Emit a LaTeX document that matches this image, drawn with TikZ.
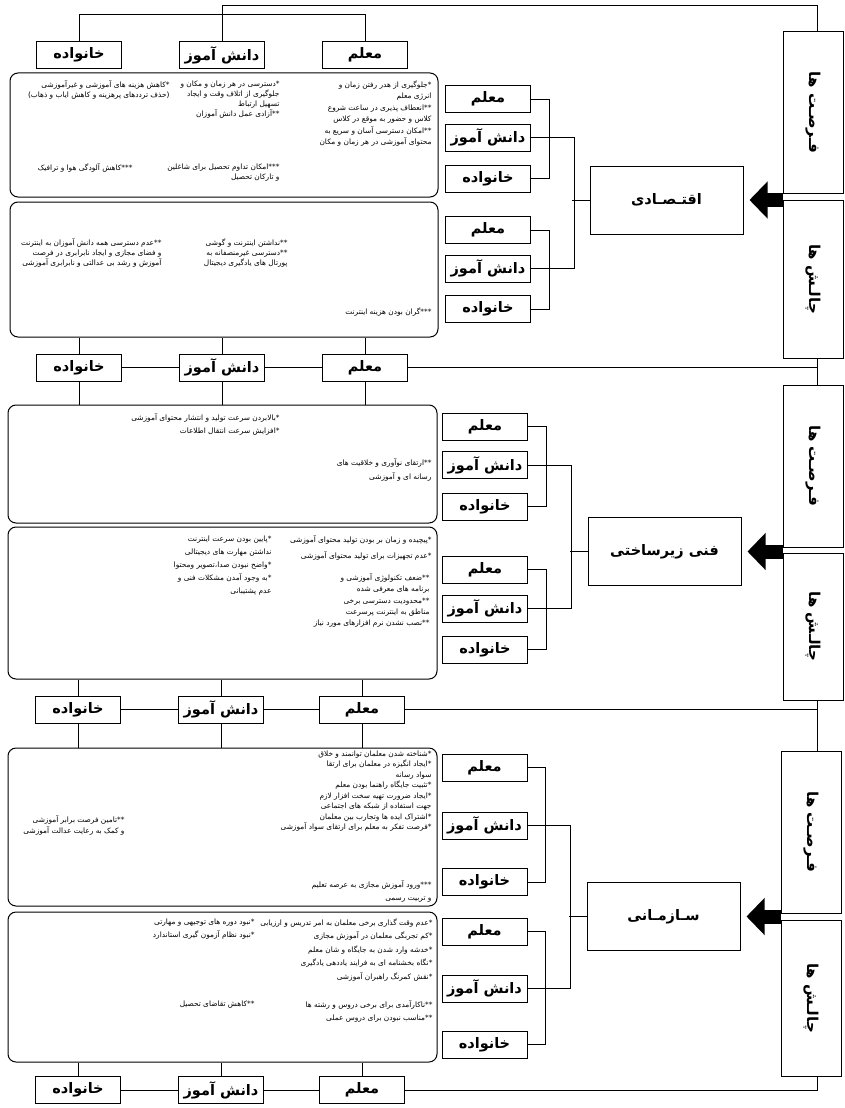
\documentclass[tikz,border=0pt]{standalone}
\usepackage{fontspec}
\usepackage{graphicx}
\setmainfont{DejaVu Sans}
\newfontfamily\fa[Script=Arabic]{DejaVu Sans}
\TeXXeTstate=1
\usetikzlibrary{arrows.meta}
\newcommand{\fatxt}[1]{{\fa\beginR #1\endR}}
\tikzset{
	cell/.style={draw, fill=white, minimum width=85pt, minimum height=27pt, inner sep=0pt, font=\bfseries\fontsize{14.5}{14.5}\selectfont},
	topic/.style={draw, fill=white, minimum width=153pt, minimum height=68pt, inner sep=0pt, font=\bfseries\fontsize{14.5}{14.5}\selectfont},
	side/.style={draw, minimum width=60pt, inner sep=0pt, font=\bfseries\fontsize{15}{15}\selectfont},
	panel/.style={draw, rounded corners=8pt, inner sep=0pt},
	note/.style={align=right, inner sep=0pt, anchor=north east, font=\fontsize{7.4}{#1}\selectfont},
	note/.default=11.5
}
\begin{document}
\begin{tikzpicture}[x=1pt, y=-1pt, line width=1pt, >={Triangle[length=18pt, width=36pt]}]
		\useasboundingbox (0,0) rectangle (844,1108);

		\node[cell] (hF1) at (79,55) {\fatxt{خانواده}};
		\node[cell] (hS1) at (222,55) {\fatxt{دانش آموز}};
		\node[cell] (hT1) at (365,55) {\fatxt{معلم}};
		\node[cell] (hF2) at (79,367.5) {\fatxt{خانواده}};
		\node[cell] (hS2) at (222,367.5) {\fatxt{دانش آموز}};
		\node[cell] (hT2) at (365,367.5) {\fatxt{معلم}};
		\node[cell] (hF3) at (78,709.5) {\fatxt{خانواده}};
		\node[cell] (hS3) at (221,709.5) {\fatxt{دانش آموز}};
		\node[cell] (hT3) at (362,709.5) {\fatxt{معلم}};
		\node[cell] (hF4) at (78,1090) {\fatxt{خانواده}};
		\node[cell] (hS4) at (221,1090) {\fatxt{دانش آموز}};
		\node[cell] (hT4) at (362,1090) {\fatxt{معلم}};

		\node[panel, minimum width=428pt, minimum height=124pt] (pan1) at (224,135) {};
		\node[panel, minimum width=428pt, minimum height=135pt] (pan2) at (224,269.5) {};
		\node[panel, minimum width=429pt, minimum height=118pt] (pan3) at (222.5,464) {};
		\node[panel, minimum width=429pt, minimum height=152pt] (pan4) at (222.5,603) {};
		\node[panel, minimum width=429pt, minimum height=158pt] (pan5) at (222.5,827) {};
		\node[panel, minimum width=429pt, minimum height=150pt] (pan6) at (222.5,987) {};

		\node[note] (n1a) at (432,80) {\fatxt{*جلوگیری از هدر رفتن زمان و}\\\fatxt{انرژی معلم}\\\fatxt{**انعطاف پذیری در ساعت شروع}\\\fatxt{کلاس و حضور به موقع در کلاس}\\\fatxt{**امکان دسترسی آسان و سریع به}\\\fatxt{محتوای آموزشی در هر زمان و مکان}};
		\node[note=10] (n1b) at (280,80) {\fatxt{*دسترسی در هر زمان و مکان و}\\\fatxt{جلوگیری از اتلاف وقت و ایجاد}\\\fatxt{تسهیل ارتباط}\\\fatxt{**آزادی عمل دانش آموزان}};
		\node[note=10] (n1c) at (280,163) {\fatxt{***امکان تداوم تحصیل برای شاغلین}\\\fatxt{و تارکان تحصیل}};
		\node[note=10] (n1d) at (170,80) {\fatxt{*کاهش هزینه های آموزشی و غیرآموزشی}\\\fatxt{(حذف ترددهای پرهزینه و کاهش ایاب و ذهاب)}};
		\node[note] (n1e) at (133,163) {\fatxt{***کاهش آلودگی هوا و ترافیک}};

		\node[note=10] (n2a) at (288,238) {\fatxt{**نداشتن اینترنت و گوشی}\\\fatxt{**دسترسی غیرمنصفانه به}\\\fatxt{پورتال های یادگیری دیجیتال}};
		\node[note=10] (n2b) at (162,238) {\fatxt{**عدم دسترسی همه دانش آموزان به اینترنت}\\\fatxt{و فضای مجازی و ایجاد نابرابری در فرصت}\\\fatxt{آموزش و رشد بی عدالتی و نابرابری آموزشی}};
		\node[note] (n2c) at (432,307) {\fatxt{***گران بودن هزینه اینترنت}};

		\node[note=13.5] (n3a) at (280,413) {\fatxt{*بالابردن سرعت تولید و انتشار محتوای آموزشی}\\\fatxt{*افزایش سرعت انتقال اطلاعات}};
		\node[note=14] (n3b) at (432,458) {\fatxt{**ارتقای نوآوری و خلاقیت های}\\\fatxt{رسانه ای و آموزشی}};

		\node[note=16.5] (n4a) at (432,535) {\fatxt{*پیچیده و زمان بر بودن تولید محتوای آموزشی}\\\fatxt{*عدم تجهیزات برای تولید محتوای آموزشی}};
		\node[note=11.3] (n4b) at (430,573) {\fatxt{**ضعف تکنولوژی آموزشی و}\\\fatxt{برنامه های معرفی شده}\\\fatxt{**محدودیت دسترسی برخی}\\\fatxt{مناطق به اینترنت پرسرعت}\\\fatxt{**نصب نشدن نرم افزارهای مورد نیاز}};
		\node[note=13.2] (n4c) at (272,535) {\fatxt{*پایین بودن سرعت اینترنت}\\\fatxt{نداشتن مهارت های دیجیتالی}\\\fatxt{*واضح نبودن صدا،تصویر ومحتوا}\\\fatxt{*به وجود آمدن مشکلات فنی و}\\\fatxt{عدم پشتیبانی}};

		\node[note=10.5] (n5a) at (432,750) {\fatxt{*شناخته شدن معلمان توانمند و خلاق}\\\fatxt{*ایجاد انگیزه در معلمان برای ارتقا}\\\fatxt{سواد رسانه}\\\fatxt{*تثبیت جایگاه راهنما بودن معلم}\\\fatxt{*ایجاد ضرورت تهیه سخت افزار لازم}\\\fatxt{جهت استفاده از شبکه های اجتماعی}\\\fatxt{*اشتراک ایده ها وتجارب بین معلمان}\\\fatxt{*فرصت تفکر به معلم برای ارتقای سواد آموزشی}};
		\node[note=13] (n5b) at (432,880) {\fatxt{***ورود آموزش مجازی به عرصه تعلیم}\\\fatxt{و تربیت رسمی}};
		\node[note=11] (n5c) at (125,815) {\fatxt{**تامین فرصت برابر آموزشی}\\\fatxt{و کمک به رعایت عدالت آموزشی}};

		\node[note=13.5] (n6a) at (433,918) {\fatxt{*عدم وقت گذاری برخی معلمان به امر تدریس و ارزیابی}\\\fatxt{*کم تجربگی معلمان در آموزش مجازی}\\\fatxt{*خدشه وارد شدن به جایگاه و شان معلم}\\\fatxt{*نگاه بخشنامه ای به فرایند یاددهی یادگیری}\\\fatxt{*نقش کمرنگ راهبران آموزشی}};
		\node[note=13] (n6b) at (433,1000) {\fatxt{**ناکارآمدی برای برخی دروس و رشته ها}\\\fatxt{**مناسب نبودن برای دروس عملی}};
		\node[note=13.5] (n6c) at (255,918) {\fatxt{*نبود دوره های توجیهی و مهارتی}\\\fatxt{*نبود نظام آزمون گیری استاندارد}};
		\node[note] (n6d) at (255,1000) {\fatxt{**کاهش تقاضای تحصیل}};

		\node[cell] (oT1) at (488,99) {\fatxt{معلم}};
		\node[cell] (oS1) at (488,137.5) {\fatxt{دانش آموز}};
		\node[cell] (oF1) at (488,178.5) {\fatxt{خانواده}};
		\node[cell] (cT1) at (488,230) {\fatxt{معلم}};
		\node[cell] (cS1) at (488,268.5) {\fatxt{دانش آموز}};
		\node[cell] (cF1) at (488,309) {\fatxt{خانواده}};
		\node[cell] (oT2) at (485,426.5) {\fatxt{معلم}};
		\node[cell] (oS2) at (485,465) {\fatxt{دانش آموز}};
		\node[cell] (oF2) at (485,506.5) {\fatxt{خانواده}};
		\node[cell] (cT2) at (485,569.5) {\fatxt{معلم}};
		\node[cell] (cS2) at (485,608.5) {\fatxt{دانش آموز}};
		\node[cell] (cF2) at (485,649.5) {\fatxt{خانواده}};
		\node[cell] (oT3) at (484.5,767.5) {\fatxt{معلم}};
		\node[cell] (oS3) at (484.5,825.5) {\fatxt{دانش آموز}};
		\node[cell] (oF3) at (484.5,882) {\fatxt{خانواده}};
		\node[cell] (cT3) at (484.5,931.5) {\fatxt{معلم}};
		\node[cell] (cS3) at (484.5,988.5) {\fatxt{دانش آموز}};
		\node[cell] (cF3) at (484.5,1044.5) {\fatxt{خانواده}};

		\node[topic] (top1) at (666.5,200) {\fatxt{اقتـصـادی}};
		\node[topic] (top2) at (664.5,551.5) {\fatxt{فنی زیرساختی}};
		\node[topic] (top3) at (663.5,916.5) {\fatxt{سـازمـانی}};

		\node[side, minimum height=161pt] (opp1) at (813,112.5) {\rotatebox{-90}{\fatxt{فـرصـت ها}}};
		\node[side, minimum height=158pt] (chal1) at (813,279) {\rotatebox{-90}{\fatxt{چالـش ها}}};
		\node[side, minimum height=162pt] (opp2) at (813,466) {\rotatebox{-90}{\fatxt{فـرصـت ها}}};
		\node[side, minimum height=147pt] (chal2) at (813,626.5) {\rotatebox{-90}{\fatxt{چالـش ها}}};
		\node[side, minimum height=162pt] (opp3) at (811,832) {\rotatebox{-90}{\fatxt{فـرصـت ها}}};
		\node[side, minimum height=156pt] (chal3) at (811,998) {\rotatebox{-90}{\fatxt{چالـش ها}}};
		\coordinate (tr) at (817,6);

		\draw (hS1.north) |- (tr) -- (tr |- opp1.north);
		\draw (hF1.north) -- ++(0,-26) -| (hT1.north);
		\draw (chal1.south -| tr) -- (opp2.north -| tr);
		\draw (chal2.south -| tr) -- (opp3.north -| tr);
		\draw (chal3.south -| tr) |- (hT4.east);

		\draw (hF2) -- (hS2);
		\draw (hS2) -- (hT2);
		\draw (hT2.east) -- (hT2.east -| tr);
		\draw (hF2.north) -- (hF2.north |- pan2.south);
		\draw (hS2.north) -- (hS2.north |- pan2.south);
		\draw (hT2.north) -- (hT2.north |- pan2.south);
		\draw (hF2.south) -- (hF2.south |- pan3.north);
		\draw (hS2.south) -- (hS2.south |- pan3.north);
		\draw (hT2.south) -- (hT2.south |- pan3.north);

		\draw (hF3) -- (hS3);
		\draw (hS3) -- (hT3);
		\draw (hT3.east) -- (hT3.east -| tr);
		\draw (hF3.north) -- (hF3.north |- pan4.south);
		\draw (hS3.north) -- (hS3.north |- pan4.south);
		\draw (hT3.north) -- (hT3.north |- pan4.south);
		\draw (hF3.south) -- (hF3.south |- pan5.north);
		\draw (hS3.south) -- (hS3.south |- pan5.north);
		\draw (hT3.south) -- (hT3.south |- pan5.north);

		\draw (hF4) -- (hS4);
		\draw (hS4) -- (hT4);
		\draw (hF4.north) -- (hF4.north |- pan6.south);
		\draw (hS4.north) -- (hS4.north |- pan6.south);
		\draw (hT4.north) -- (hT4.north |- pan6.south);

		\foreach \k in {1,2,3} {
			\draw (oT\k.east) -- ++(18,0) |- (oF\k.east);
			\draw (cT\k.east) -- ++(18,0) |- (cF\k.east);
			\draw (oS\k.east) -- ++(43,0) |- (cS\k.east);
			\draw (top\k.west) -- ++(-18,0);
			\draw[line width=14pt, ->, shorten >=6pt] (top\k.east -| opp\k.west) -- (top\k.east);
		}
	\end{tikzpicture}
\end{document}
